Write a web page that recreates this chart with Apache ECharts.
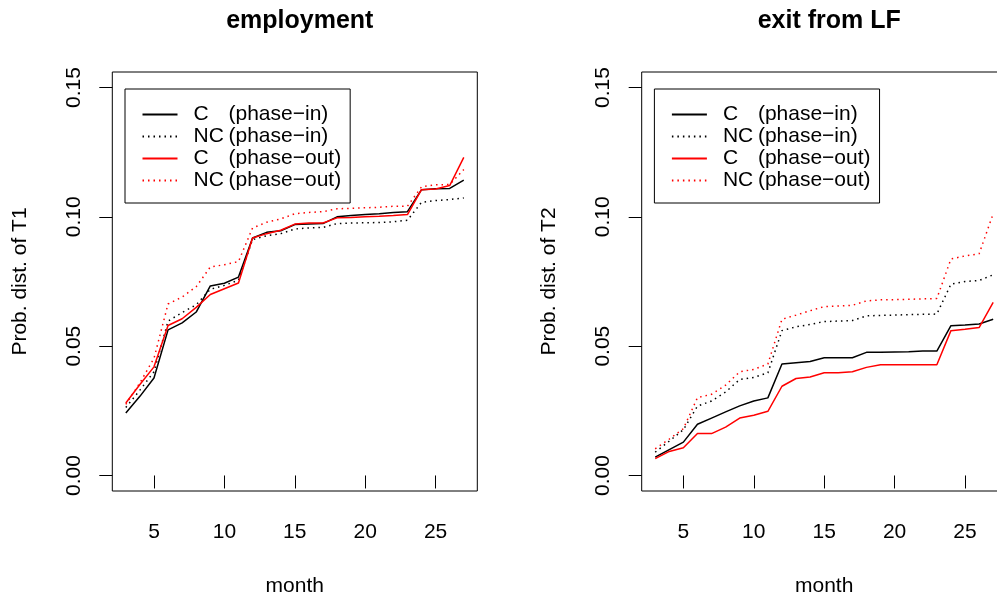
<!DOCTYPE html>
<html>
<head>
<meta charset="utf-8">
<script src="https://cdn.jsdelivr.net/npm/echarts@6/dist/echarts.min.js"></script>
<style>
  html, body { margin: 0; padding: 0; background: #fff; }
  #chart { width: 997px; height: 597px; }
</style>
</head>
<body>
<div id="chart"></div>
<script>
// months on the x axis
const months = [3, 4, 5, 6, 7, 8, 9, 10, 11, 12, 13, 14, 15, 16, 17, 18, 19, 20, 21, 22, 23, 24, 25, 26, 27];
const xTicks = [5, 10, 15, 20, 25];
const yTicks = [0, 0.05, 0.1, 0.15];
const seriesNames = ['C (phase−in)', 'NC (phase−in)', 'C (phase−out)', 'NC (phase−out)'];
const panelTitles = ['employment', 'exit from LF'];
const yTitles = ['Prob. dist. of T1', 'Prob. dist. of T2'];

// employment panel
const empCPhaseIn = [0.0242, 0.0306, 0.0377, 0.0563, 0.059, 0.0632, 0.0733, 0.0743, 0.0767, 0.0918, 0.094, 0.0946, 0.097, 0.0972, 0.0974, 0.1, 0.1005, 0.1009, 0.1012, 0.1017, 0.102, 0.1105, 0.1109, 0.111, 0.1142];
const empNCPhaseIn = [0.0263, 0.033, 0.0401, 0.0597, 0.063, 0.066, 0.072, 0.0735, 0.0755, 0.0912, 0.0927, 0.0935, 0.0953, 0.0957, 0.0959, 0.0974, 0.0976, 0.0977, 0.0978, 0.0981, 0.0987, 0.1056, 0.1063, 0.1067, 0.1073];
const empCPhaseOut = [0.028, 0.0352, 0.042, 0.058, 0.0606, 0.065, 0.07, 0.0722, 0.0744, 0.0918, 0.0935, 0.0948, 0.0972, 0.0976, 0.0976, 0.0996, 0.0997, 0.1, 0.1002, 0.1005, 0.1009, 0.1105, 0.1108, 0.1121, 0.123];
const empNCPhaseOut = [0.0275, 0.0358, 0.0453, 0.0663, 0.069, 0.073, 0.0806, 0.0815, 0.0827, 0.0957, 0.0979, 0.0992, 0.1012, 0.1017, 0.102, 0.1031, 0.1033, 0.1035, 0.1037, 0.1041, 0.1041, 0.1116, 0.1124, 0.1125, 0.1183];

// exit from LF panel
const exitCPhaseIn = [0.0071, 0.01, 0.0129, 0.0198, 0.0222, 0.0246, 0.0269, 0.0288, 0.03, 0.0431, 0.0436, 0.0441, 0.0455, 0.0455, 0.0455, 0.0476, 0.0476, 0.0477, 0.0478, 0.0481, 0.0481, 0.0579, 0.0582, 0.0586, 0.0604];
const exitNCPhaseIn = [0.009, 0.0133, 0.0177, 0.0268, 0.0288, 0.0323, 0.0371, 0.0379, 0.0397, 0.056, 0.0575, 0.0584, 0.0595, 0.0597, 0.0599, 0.0617, 0.0619, 0.062, 0.0622, 0.0623, 0.0624, 0.074, 0.075, 0.0754, 0.0776];
const exitCPhaseOut = [0.0065, 0.0093, 0.0107, 0.0162, 0.0162, 0.0187, 0.0222, 0.0233, 0.0248, 0.0345, 0.0375, 0.0381, 0.0397, 0.0397, 0.0401, 0.0418, 0.0428, 0.0428, 0.0428, 0.0428, 0.0428, 0.056, 0.0565, 0.0572, 0.0669];
const exitNCPhaseOut = [0.0103, 0.0141, 0.0181, 0.0301, 0.0314, 0.0349, 0.0401, 0.041, 0.0431, 0.0604, 0.062, 0.0637, 0.0653, 0.0655, 0.0658, 0.0675, 0.0679, 0.068, 0.0681, 0.0683, 0.0684, 0.0837, 0.0849, 0.0857, 0.1012];

const FONT = '"Liberation Sans", Arial, Helvetica, sans-serif';
const panelLeft = [112.3, 641.7];
const panelWidth = 365;
const panelTop = 72;
const panelHeight = 419;

// line look per legend entry: black / red, solid / dotted
const looks = [
    { color: '#000000', type: 'solid' },
    { color: '#000000', type: [1.5, 4] },
    { color: '#ff0000', type: 'solid' },
    { color: '#ff0000', type: [1.5, 4] }
];
const panelData = [
    [empCPhaseIn, empNCPhaseIn, empCPhaseOut, empNCPhaseOut],
    [exitCPhaseIn, exitNCPhaseIn, exitCPhaseOut, exitNCPhaseOut]
];

const chart = echarts.init(document.getElementById('chart'), null, { renderer: 'canvas' });

let grids = [], xAxes = [], yAxes = [], titles = [], legends = [], series = [];

panelData.forEach(function (sets, p) {
    grids.push({
        left: panelLeft[p], top: panelTop, width: panelWidth, height: panelHeight,
        outerBoundsMode: 'none', containLabel: false,
        show: true, borderColor: '#000', borderWidth: 1, backgroundColor: 'transparent'
    });
    xAxes.push({
        type: 'value', gridIndex: p, min: 2.04, max: 27.96,
        name: 'month', nameLocation: 'middle', nameGap: 85,
        nameTextStyle: { fontFamily: FONT, fontSize: 21, color: '#000' },
        axisLine: { show: false },
        splitLine: { show: false },
        axisTick: { show: true, length: 13, customValues: xTicks, lineStyle: { color: '#000', width: 1 } },
        axisLabel: { customValues: xTicks, margin: 31, fontFamily: FONT, fontSize: 21, color: '#000' }
    });
    yAxes.push({
        type: 'value', gridIndex: p, min: -0.006, max: 0.156,
        name: yTitles[p], nameLocation: 'middle', nameGap: 82,
        nameTextStyle: { fontFamily: FONT, fontSize: 21, color: '#000' },
        axisLine: { show: false },
        splitLine: { show: false },
        axisTick: { show: true, length: 13, customValues: yTicks, lineStyle: { color: '#000', width: 1 } },
        axisLabel: {
            customValues: yTicks, rotate: 90, margin: 28,
            fontFamily: FONT, fontSize: 21, color: '#000',
            formatter: function (v) { return v.toFixed(2); }
        }
    });
    titles.push({
        text: panelTitles[p],
        left: panelLeft[p] + panelWidth / 2, top: 4, textAlign: 'center',
        textStyle: { fontFamily: FONT, fontSize: 25, fontWeight: 'bold', color: '#000' }
    });
    legends.push({
        data: seriesNames,
        orient: 'vertical',
        left: panelLeft[p] + 12.7, top: 89,
        padding: [15, 9, 12, 16.5],
        itemWidth: 35, itemHeight: 14, itemGap: 1,
        itemStyle: { opacity: 0 },
        borderColor: '#000', borderWidth: 1,
        selectedMode: false,
        formatter: function (name) {
            const i = name.indexOf(' (');
            return '{k|' + name.slice(0, i) + '}{p|' + name.slice(i + 1) + '}';
        },
        textStyle: {
            fontFamily: FONT, fontSize: 21, color: '#000', lineHeight: 21,
            rich: {
                k: { fontFamily: FONT, fontSize: 21, color: '#000', width: 35, padding: [0, 0, 0, 11] },
                p: { fontFamily: FONT, fontSize: 21, color: '#000' }
            }
        }
    });
    sets.forEach(function (vals, s) {
        series.push({
            name: seriesNames[s],
            type: 'line',
            xAxisIndex: p, yAxisIndex: p,
            symbol: 'none',
            data: months.map(function (m, i) { return [m, vals[i]]; }),
            itemStyle: { color: looks[s].color },
            lineStyle: { color: looks[s].color, width: 1.5, type: looks[s].type }
        });
    });
});

chart.setOption({
    animation: false,
    backgroundColor: '#fff',
    title: titles,
    legend: legends,
    grid: grids,
    xAxis: xAxes,
    yAxis: yAxes,
    series: series
});
</script>
</body>
</html>
